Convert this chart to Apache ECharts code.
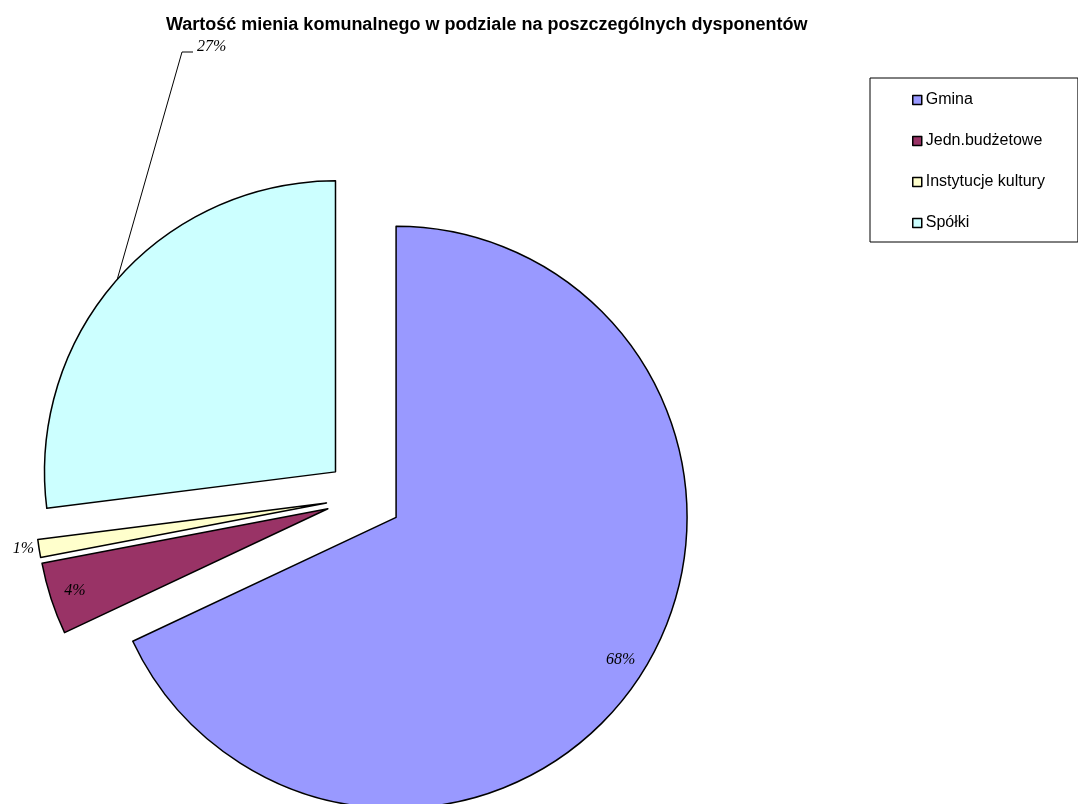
<!DOCTYPE html>
<html>
<head>
<meta charset="utf-8">
<script src="https://cdn.jsdelivr.net/npm/echarts@6/dist/echarts.min.js"></script>
<style>
html, body { margin: 0; padding: 0; background: #fff; }
#chart { width: 1078px; height: 804px; }
</style>
</head>
<body>
<div id="chart"></div>
<script>
'use strict';

// dane z wykresu (udziały w %)
var categories = ['Gmina', 'Jedn.budżetowe', 'Instytucje kultury', 'Spółki'];
var shares = [68, 4, 1, 27];
var colors = ['#9999FF', '#993366', '#FFFFCC', '#CCFFFF'];
// gdzie stoi etykieta: w wycinku, obok wycinka, albo z linią odniesienia
var labelPlace = ['ring', 'ring', 'outside', 'leader'];

var pieCenter = [364, 497];
var pieRadius = 291;
var explode = 38;      // odsunięcie wycinków od środka
var ringRadius = 266;  // promień dla etykiet w środku wycinka
var leaderPos = [197, 47];

var labelFont = {
    fontFamily: 'Liberation Serif',
    fontStyle: 'italic',
    fontSize: 16,
    color: '#000'
};

var total = 0;
for (var i = 0; i < shares.length; i ++) {
    total += shares[i];
}

// każdy wycinek to osobna seria z przesuniętym środkiem
var series = [];
var acc = 0;
for (var i = 0; i < categories.length; i ++) {
    var mid = (acc + shares[i] / 2) / total * Math.PI * 2;
    acc += shares[i];
    var dir = [Math.sin(mid), -Math.cos(mid)];
    var c = [pieCenter[0] + explode * dir[0], pieCenter[1] + explode * dir[1]];

    var data = [];
    for (var j = 0; j < categories.length; j ++) {
        var own = i == j;
        data.push({
            name: categories[j],
            value: shares[j],
            itemStyle: own ? { color: colors[j], borderColor: '#000', borderWidth: 1.5 }
                           : { color: 'rgba(0,0,0,0)', borderWidth: 0 },
            label: { show: own },
            labelLine: { show: own && labelPlace[j] == 'leader' }
        });
    }

    series.push({
        type: 'pie',
        center: c,
        radius: pieRadius,
        startAngle: 90,
        clockwise: true,
        silent: true,
        avoidLabelOverlap: false,
        emphasis: { disabled: true },
        label: Object.assign({
            position: 'outside',
            formatter: '{c}%',
            distanceToLabelLine: 5
        }, labelFont),
        labelLine: {
            length: 0,
            length2: 0,
            lineStyle: { color: '#000', width: 1 }
        },
        labelLayout: (function (idx, c, dir) {
            return function (params) {
                if (params.dataIndex != idx) {
                    return {};
                }
                var place = labelPlace[idx];
                if (place == 'ring') {
                    return {
                        x: c[0] + ringRadius * dir[0],
                        y: c[1] + ringRadius * dir[1],
                        align: 'center',
                        verticalAlign: 'middle'
                    };
                }
                if (place == 'leader') {
                    var x = leaderPos[0], y = leaderPos[1];
                    var pts = params.labelLinePoints;
                    return {
                        x: x,
                        y: y,
                        align: 'left',
                        verticalAlign: 'middle',
                        labelLinePoints: [pts[0], [x - 15, y + 5], [x - 4, y + 5]]
                    };
                }
                return {};
            };
        })(i, c, dir),
        data: data
    });
}

var legendData = [];
for (var i = 0; i < categories.length; i ++) {
    legendData.push({
        name: categories[i],
        itemStyle: { color: colors[i], borderColor: '#000', borderWidth: 1.5 }
    });
}

var chart = echarts.init(document.getElementById('chart'));
chart.setOption({
    animation: false,
    title: {
        text: 'Wartość mienia komunalnego w podziale na poszczególnych dysponentów',
        left: 166,
        top: 16,
        padding: 0,
        textStyle: {
            fontFamily: 'Liberation Sans',
            fontWeight: 'bold',
            fontSize: 18,
            color: '#000'
        }
    },
    legend: {
        orient: 'vertical',
        left: 870,
        top: 78,
        data: legendData,
        icon: 'rect',
        itemWidth: 9,
        itemHeight: 9,
        itemGap: 25,
        padding: [14, 33, 11, 42],
        borderColor: '#000',
        borderWidth: 1,
        selectedMode: false,
        textStyle: {
            fontFamily: 'Liberation Sans',
            fontSize: 16,
            lineHeight: 16,
            color: '#000',
            padding: [0, 0, 0, -1]
        }
    },
    series: series
});
</script>
</body>
</html>
